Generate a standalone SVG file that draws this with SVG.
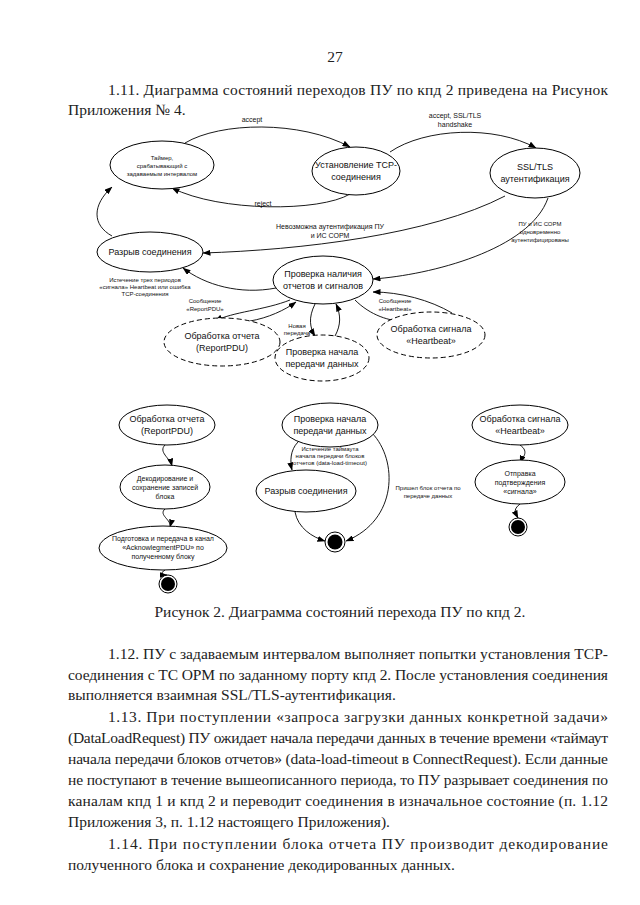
<svg xmlns="http://www.w3.org/2000/svg" width="640" height="905" viewBox="0 0 640 905">
<defs>
<marker id="ar" markerWidth="8" markerHeight="6" refX="7.5" refY="3" orient="auto" markerUnits="userSpaceOnUse">
<path d="M0,0 L8,3 L0,6 Z" fill="#000"/>
</marker>
</defs>
<style>
.pg{font-family:"Liberation Serif","Times New Roman",serif;font-size:15.5px;fill:#222}
.n{font-family:"Liberation Sans",Arial,sans-serif;font-size:9px;fill:#111;text-anchor:middle}
.s{font-family:"Liberation Sans",Arial,sans-serif;font-size:7px;fill:#111;text-anchor:middle}
.l{font-family:"Liberation Sans",Arial,sans-serif;font-size:6px;fill:#111;text-anchor:middle}
.e{fill:#fff;stroke:#000;stroke-width:1}
.d{fill:#fff;stroke:#000;stroke-width:1;stroke-dasharray:5,3}
.c{fill:none;stroke:#000;stroke-width:0.9;marker-end:url(#ar)}
</style>
<rect width="640" height="905" fill="#fff"/>
<text class="pg" x="335" y="62" text-anchor="middle">27</text>
<text class="pg" x="108" y="95" textLength="500" lengthAdjust="spacing">1.11. Диаграмма состояний переходов ПУ по кпд 2 приведена на Рисунок</text>
<text class="pg" x="68" y="115">Приложения № 4.</text>

<g id="connectors">
<path class="c" d="M185,143 C220,122 300,120 350,147"/>
<path class="c" d="M350,194 C320,212 220,212 172,188"/>
<path class="c" d="M390,152 C425,128 495,125 536,148"/>
<path class="c" d="M505,196 C430,235 300,250 203,253"/>
<path class="c" d="M548,198 C530,250 430,275 373,279"/>
<path class="c" d="M112,236 C92,225 92,205 112,187"/>
<path class="c" d="M276,288 C240,295 205,285 183,268"/>
<path class="c" d="M290,300 C265,310 232,312 215,321"/>
<path class="c" d="M250,321 C268,318 285,310 296,302"/>
<path class="c" d="M315,304 C308,318 310,328 315,336"/>
<path class="c" d="M335,336 C341,325 341,315 336,304"/>
<path class="c" d="M355,300 C370,315 390,322 406,321"/>
<path class="c" d="M452,313 C430,300 400,292 373,292"/>
<path class="c" d="M165,445 C158,452 170,458 172,466"/>
<path class="c" d="M165,509 C158,515 172,520 170,527"/>
<path class="c" d="M165,570 C160,573 162,575 167,575"/>
<path class="c" d="M298,442 C290,450 290,462 292,470"/>
<path class="c" d="M295,512 C298,528 312,537 325,541"/>
<path class="c" d="M372,433 C398,460 398,520 346,541"/>
<path class="c" d="M520,445 C530,452 522,458 520,463"/>
<path class="c" d="M520,504 C512,510 516,514 518,518"/>
<text class="s" x="252" y="122">accept</text>
<text class="s" x="455" y="118">accept, SSL/TLS</text>
<text class="s" x="455" y="127">handshake</text>
<text class="s" x="263" y="206">reject</text>
<text class="s" x="330" y="229">Невозможна аутентификация ПУ</text>
<text class="s" x="330" y="238">и ИС СОРМ</text>
<text class="l" x="540" y="226">ПУ и ИС СОРМ</text>
<text class="l" x="540" y="234">одновременно</text>
<text class="l" x="540" y="242">аутентифицированы</text>
<text class="l" x="145" y="282">Истечение трех периодов</text>
<text class="l" x="145" y="289">«сигнала» Heartbeat или ошибка</text>
<text class="l" x="145" y="296">TCP-соединения</text>
<text class="l" x="205" y="303">Сообщение</text>
<text class="l" x="205" y="311">«ReportPDU»</text>
<text class="l" x="297" y="328">Новая</text>
<text class="l" x="297" y="335">передача</text>
<text class="l" x="395" y="303">Сообщение</text>
<text class="l" x="395" y="311">«Heartbeat»</text>
<text class="l" x="330" y="451">Истечение таймаута</text>
<text class="l" x="330" y="458">начала передачи блоков</text>
<text class="l" x="330" y="465">отчетов (data-load-timeout)</text>
<text class="l" x="428" y="490">Пришел блок отчета по</text>
<text class="l" x="428" y="498">передаче данных</text>
</g>

<g id="timer"><ellipse class="e" cx="162" cy="165" rx="52" ry="24"/>
<text class="l" x="162" y="160">Таймер,</text><text class="l" x="162" y="168">срабатывающий с</text><text class="l" x="162" y="176">задаваемым интервалом</text></g>
<g id="tcp"><ellipse class="e" cx="356" cy="171" rx="44" ry="24"/>
<text class="n" x="356" y="168">Установление TCP-</text><text class="n" x="356" y="180">соединения</text></g>
<g id="ssl"><ellipse class="e" cx="535" cy="173" rx="45" ry="25"/>
<text class="n" x="535" y="170">SSL/TLS</text><text class="n" x="535" y="182">аутентификация</text></g>
<g id="break"><ellipse class="e" cx="150" cy="252" rx="53" ry="20"/>
<text class="n" x="150" y="255">Разрыв соединения</text></g>
<g id="check"><ellipse class="e" cx="323" cy="280" rx="50" ry="24"/>
<text class="n" x="323" y="277">Проверка наличия</text><text class="n" x="323" y="289">отчетов и сигналов</text></g>
<g id="report"><ellipse class="d" cx="222" cy="342" rx="58" ry="24"/>
<text class="n" x="222" y="339">Обработка отчета</text><text class="n" x="222" y="351">(ReportPDU)</text></g>
<g id="start"><ellipse class="d" cx="322" cy="358" rx="47" ry="23"/>
<text class="n" x="322" y="355">Проверка начала</text><text class="n" x="322" y="367">передачи данных</text></g>
<g id="hb"><ellipse class="d" cx="431" cy="335" rx="54" ry="23"/>
<text class="n" x="431" y="332">Обработка сигнала</text><text class="n" x="431" y="344">«Heartbeat»</text></g>

<g id="r1"><ellipse class="e" cx="167" cy="425" rx="48" ry="20"/>
<text class="n" x="167" y="422">Обработка отчета</text><text class="n" x="167" y="434">(ReportPDU)</text></g>
<g id="r2"><ellipse class="e" cx="165" cy="487" rx="45" ry="22"/>
<text class="s" x="165" y="481">Декодирование и</text><text class="s" x="165" y="490">сохранение записей</text><text class="s" x="165" y="499">блока</text></g>
<g id="r3"><ellipse class="e" cx="163" cy="548" rx="64" ry="22"/>
<text class="s" x="163" y="541">Подготовка и передача в канал</text><text class="s" x="163" y="550">«AcknowlegmentPDU» по</text><text class="s" x="163" y="559">полученному блоку</text></g>
<g id="r4"><circle cx="168" cy="584" r="9" fill="#fff" stroke="#000"/><circle cx="168" cy="584" r="7" fill="#000"/></g>

<g id="m1"><ellipse class="e" cx="330" cy="425" rx="48" ry="22"/>
<text class="n" x="330" y="422">Проверка начала</text><text class="n" x="330" y="434">передачи данных</text></g>
<g id="m2"><ellipse class="e" cx="306" cy="491" rx="50" ry="21"/>
<text class="n" x="306" y="494">Разрыв соединения</text></g>
<g id="m3"><circle cx="335" cy="542" r="10" fill="#fff" stroke="#000"/><circle cx="335" cy="542" r="7.5" fill="#000"/></g>

<g id="h1"><ellipse class="e" cx="520" cy="425" rx="48" ry="20"/>
<text class="n" x="520" y="422">Обработка сигнала</text><text class="n" x="520" y="434">«Heartbeat»</text></g>
<g id="h2"><ellipse class="e" cx="520" cy="482" rx="45" ry="22"/>
<text class="s" x="520" y="476">Отправка</text><text class="s" x="520" y="485">подтверждения</text><text class="s" x="520" y="494">«сигнала»</text></g>
<g id="h3"><circle cx="518" cy="527" r="9" fill="#fff" stroke="#000"/><circle cx="518" cy="527" r="7" fill="#000"/></g>

<text class="pg" x="340" y="617" text-anchor="middle">Рисунок 2. Диаграмма состояний перехода ПУ по кпд 2.</text>
<text class="pg" x="108" y="659" textLength="500" lengthAdjust="spacing">1.12. ПУ с задаваемым интервалом выполняет попытки установления TCP-</text>
<text class="pg" x="68" y="680" textLength="540" lengthAdjust="spacing">соединения с ТС ОРМ по заданному порту кпд 2. После установления соединения</text>
<text class="pg" x="68" y="700">выполняется взаимная SSL/TLS-аутентификация.</text>
<text class="pg" x="108" y="722" textLength="500" lengthAdjust="spacing">1.13. При поступлении «запроса загрузки данных конкретной задачи»</text>
<text class="pg" x="68" y="743" textLength="540" lengthAdjust="spacing">(DataLoadRequest) ПУ ожидает начала передачи данных в течение времени «таймаут</text>
<text class="pg" x="68" y="764" textLength="540" lengthAdjust="spacing">начала передачи блоков отчетов» (data-load-timeout в ConnectRequest). Если данные</text>
<text class="pg" x="68" y="785" textLength="540" lengthAdjust="spacing">не поступают в течение вышеописанного периода, то ПУ разрывает соединения по</text>
<text class="pg" x="68" y="806" textLength="540" lengthAdjust="spacing">каналам кпд 1 и кпд 2 и переводит соединения в изначальное состояние (п. 1.12</text>
<text class="pg" x="68" y="827">Приложения 3, п. 1.12 настоящего Приложения).</text>
<text class="pg" x="108" y="849" textLength="500" lengthAdjust="spacing">1.14. При поступлении блока отчета ПУ производит декодирование</text>
<text class="pg" x="68" y="870">полученного блока и сохранение декодированных данных.</text>
</svg>
